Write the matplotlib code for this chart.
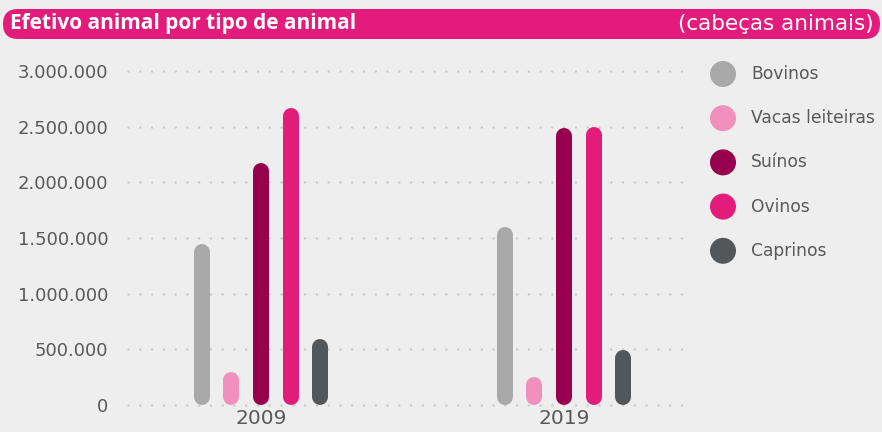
import matplotlib.pyplot as plt
import numpy as np
from matplotlib.patches import FancyBboxPatch
from matplotlib.transforms import IdentityTransform

years = ["2009", "2019"]
animals = ["Bovinos", "Vacas leiteiras", "Suínos", "Ovinos", "Caprinos"]
bovinos = [1450000, 1595000]
vacas = [295000, 255000]
suinos = [2170000, 2490000]
ovinos = [2670000, 2500000]
caprinos = [597000, 490000]
yticks = [0, 500000, 1000000, 1500000, 2000000, 2500000, 3000000]
ytick_labels = ["0", "500.000", "1.000.000", "1.500.000", "2.000.000", "2.500.000", "3.000.000"]

colors = ["#A8A9A8", "#F290BD", "#97004D", "#E31C7B", "#54575A"]
BG = "#EDEEED"
TXT = "#58595B"

W, H = 882, 432
fig = plt.figure(figsize=(W / 100, H / 100), dpi=100, facecolor=BG)

# title pill
pill = FancyBboxPatch((3 + 15, H - 39 + 15), 877 - 30, 30 - 30,
                      boxstyle="round,pad=15", transform=IdentityTransform(),
                      facecolor="#E31C7B", edgecolor="none")
fig.patches.append(pill)
fig.text(10 / W, 1 - 24 / H, "Efetivo animal por tipo de animal", color="white",
         fontsize=15, fontweight="bold", family="Open Sans", va="center", ha="left")
fig.text(874 / W, 1 - 24 / H, "(cabeças animais)", color="white",
         fontsize=15.5, family="DejaVu Sans", va="center", ha="right")

# main axes
left, right, top, bottom = 128, 690, 71, 405
ax = fig.add_axes([left / W, 1 - bottom / H, (right - left) / W, (bottom - top) / H])
ax.set_facecolor(BG)
ax.set_xlim(-0.439, 1.416)
ax.set_ylim(0, 3000000)
for s in ax.spines.values():
    s.set_visible(False)

for y in yticks:
    ax.plot([-0.439, 1.416], [y, y], color="#C9CACA", lw=1.8,
            linestyle=(0, (0.01, 4.7)), solid_capstyle="round",
            dash_capstyle="round", clip_on=False, zorder=1)

series = [bovinos, vacas, suinos, ovinos, caprinos]
x = np.arange(len(years))
step = 0.0975
r_data = 8 / (bottom - top) * 3000000
lw_pt = 16 * 72 / 100
for i, (vals, c) in enumerate(zip(series, colors)):
    xs = x + (i - 2) * step
    for xi, v in zip(xs, vals):
        ax.plot([xi, xi], [r_data, v - r_data], color=c, lw=lw_pt,
                solid_capstyle="round", zorder=3, clip_on=False)

ax.set_yticks(yticks)
ax.set_yticklabels(ytick_labels)
ax.set_xticks(x)
ax.set_xticklabels(years)
ax.tick_params(length=0, labelsize=13, labelcolor=TXT)
ax.tick_params(axis="y", pad=14)
ax.tick_params(axis="x", pad=3, labelsize=14.5)

# legend
lax = fig.add_axes([700 / W, 1 - 275 / H, 182 / W, 225 / H])
lax.set_xlim(0, 182)
lax.set_ylim(225, 0)
lax.axis("off")
for i, (name, c) in enumerate(zip(animals, colors)):
    yy = 24 + i * 44.2
    lax.scatter([23], [yy], s=(26 * 72 / 100) ** 2, color=c, edgecolor="none")
    lax.text(51, yy, name, fontsize=12.3, color=TXT, va="center", ha="left")

fig.savefig("out.png", dpi=100, facecolor=BG)
